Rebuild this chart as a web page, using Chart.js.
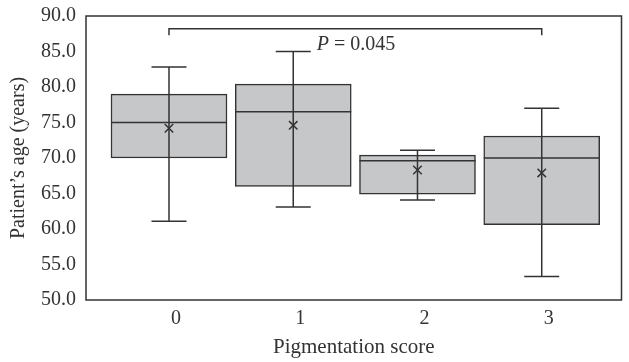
<!DOCTYPE html>
<html>
<head>
<meta charset="utf-8">
<script src="https://cdn.jsdelivr.net/npm/chart.js@4.4.0/dist/chart.umd.min.js"></script>
<style>
  html, body { margin: 0; padding: 0; background: #fff; }
  #wrap { width: 629px; height: 362px; }
</style>
</head>
<body>
<div id="wrap"><canvas id="box-chart"></canvas></div>
<script>
// Data
const categories = [0, 1, 2, 3];
const q1 = [70.0, 66.0, 64.9, 60.6];
const q3 = [79.0, 80.4, 70.4, 73.1];
const medians = [75.0, 76.5, 69.6, 70.0];
const mins = [61.1, 63.1, 64.1, 53.3];
const maxs = [82.8, 85.0, 71.1, 77.0];
const means = [74.2, 74.6, 68.3, 67.9];
const yTicks = [50, 55, 60, 65, 70, 75, 80, 85, 90];
const pLabel = ['P', ' = 0.045'];
const bracketFrom = 0, bracketTo = 3, bracketLevel = 88.2, bracketDrop = 87.3;
const pLabelAt = { x: 1.19, y: 85.9 };

const ink = '#333333';
const serif = '"Liberation Serif", "DejaVu Serif", serif';

// whiskers, medians, bracket, frame
const boxExtras = {
    id: 'boxExtras',
    afterDatasetsDraw(chart) {
        const { ctx, chartArea } = chart;
        const xs = chart.scales.x, ys = chart.scales.y;
        const boxHalf = 58, capHalf = 17.5;
        ctx.save();
        ctx.strokeStyle = ink;
        ctx.lineWidth = 1.5;
        categories.forEach((c, i) => {
            const x = xs.getPixelForValue(c);
            // median
            ctx.beginPath();
            ctx.moveTo(x - boxHalf, ys.getPixelForValue(medians[i]));
            ctx.lineTo(x + boxHalf, ys.getPixelForValue(medians[i]));
            ctx.stroke();
            // whisker
            const yMin = ys.getPixelForValue(mins[i]);
            const yMax = ys.getPixelForValue(maxs[i]);
            ctx.beginPath();
            ctx.moveTo(x, yMin); ctx.lineTo(x, yMax);
            ctx.moveTo(x - capHalf, yMin); ctx.lineTo(x + capHalf, yMin);
            ctx.moveTo(x - capHalf, yMax); ctx.lineTo(x + capHalf, yMax);
            ctx.stroke();
        });

        // significance bracket
        const bx1 = xs.getPixelForValue(bracketFrom);
        const bx2 = xs.getPixelForValue(bracketTo);
        const by = ys.getPixelForValue(bracketLevel);
        const bd = ys.getPixelForValue(bracketDrop);
        ctx.beginPath();
        ctx.moveTo(bx1, bd); ctx.lineTo(bx1, by); ctx.lineTo(bx2, by); ctx.lineTo(bx2, bd);
        ctx.stroke();

        // P value text
        ctx.fillStyle = ink;
        ctx.textBaseline = 'middle';
        ctx.textAlign = 'left';
        let tx = xs.getPixelForValue(pLabelAt.x);
        const ty = ys.getPixelForValue(pLabelAt.y);
        ctx.font = 'italic 20px ' + serif;
        ctx.fillText(pLabel[0], tx, ty);
        tx += ctx.measureText(pLabel[0]).width;
        ctx.font = '20px ' + serif;
        ctx.fillText(pLabel[1], tx, ty);

        // frame
        ctx.strokeRect(chartArea.left, chartArea.top,
            chartArea.right - chartArea.left, chartArea.bottom - chartArea.top);
        ctx.restore();
    }
};

new Chart(document.getElementById('box-chart'), {
    type: 'bar',
    data: {
        datasets: [{
            type: 'scatter',
            data: categories.map((c, i) => ({ x: c, y: means[i] })),
            pointStyle: 'crossRot',
            radius: 6,
            borderColor: ink,
            borderWidth: 1.5,
            order: 0
        }, {
            type: 'bar',
            data: categories.map((c, i) => ({ x: c, y: [q1[i], q3[i]] })),
            backgroundColor: '#c6c7c9',
            borderColor: ink,
            borderWidth: 1.5,
            borderSkipped: false,
            barThickness: 116,
            order: 1
        }]
    },
    options: {
        responsive: true,
        maintainAspectRatio: false,
        animation: false,
        layout: { padding: { top: 16, right: 1, left: 0, bottom: 0 } },
        plugins: { legend: { display: false }, tooltip: { enabled: false } },
        scales: {
            x: {
                type: 'linear',
                min: -0.668,
                max: 3.642,
                offset: false,
                grid: { display: false, offset: false, drawTicks: false },
                border: { display: false },
                afterBuildTicks: (s) => { s.ticks = categories.map(v => ({ value: v })); },
                afterFit: (s) => { s.height = 62; s.paddingLeft = 0; s.paddingRight = 0; },
                ticks: {
                    padding: 7,
                    labelOffset: 7,
                    color: ink,
                    font: { family: serif, size: 20 },
                    callback: (v) => String(v)
                },
                title: {
                    display: true,
                    text: 'Pigmentation score',
                    color: ink,
                    font: { family: serif, size: 21 },
                    padding: { top: 0, bottom: 2 }
                }
            },
            y: {
                min: 50,
                max: 90,
                grid: { display: false, drawTicks: false },
                border: { display: false },
                afterBuildTicks: (s) => { s.ticks = yTicks.map(v => ({ value: v })); },
                afterFit: (s) => { s.width = 86; s.paddingTop = 0; s.paddingBottom = 0; },
                ticks: {
                    padding: 10,
                    color: ink,
                    font: { family: serif, size: 20 },
                    callback: (v) => Number(v).toFixed(1)
                },
                title: {
                    display: true,
                    text: 'Patient\u2019s age (years)',
                    color: ink,
                    font: { family: serif, size: 20 },
                    padding: { top: 7, bottom: 0 }
                }
            }
        }
    },
    plugins: [boxExtras]
});
</script>
</body>
</html>
